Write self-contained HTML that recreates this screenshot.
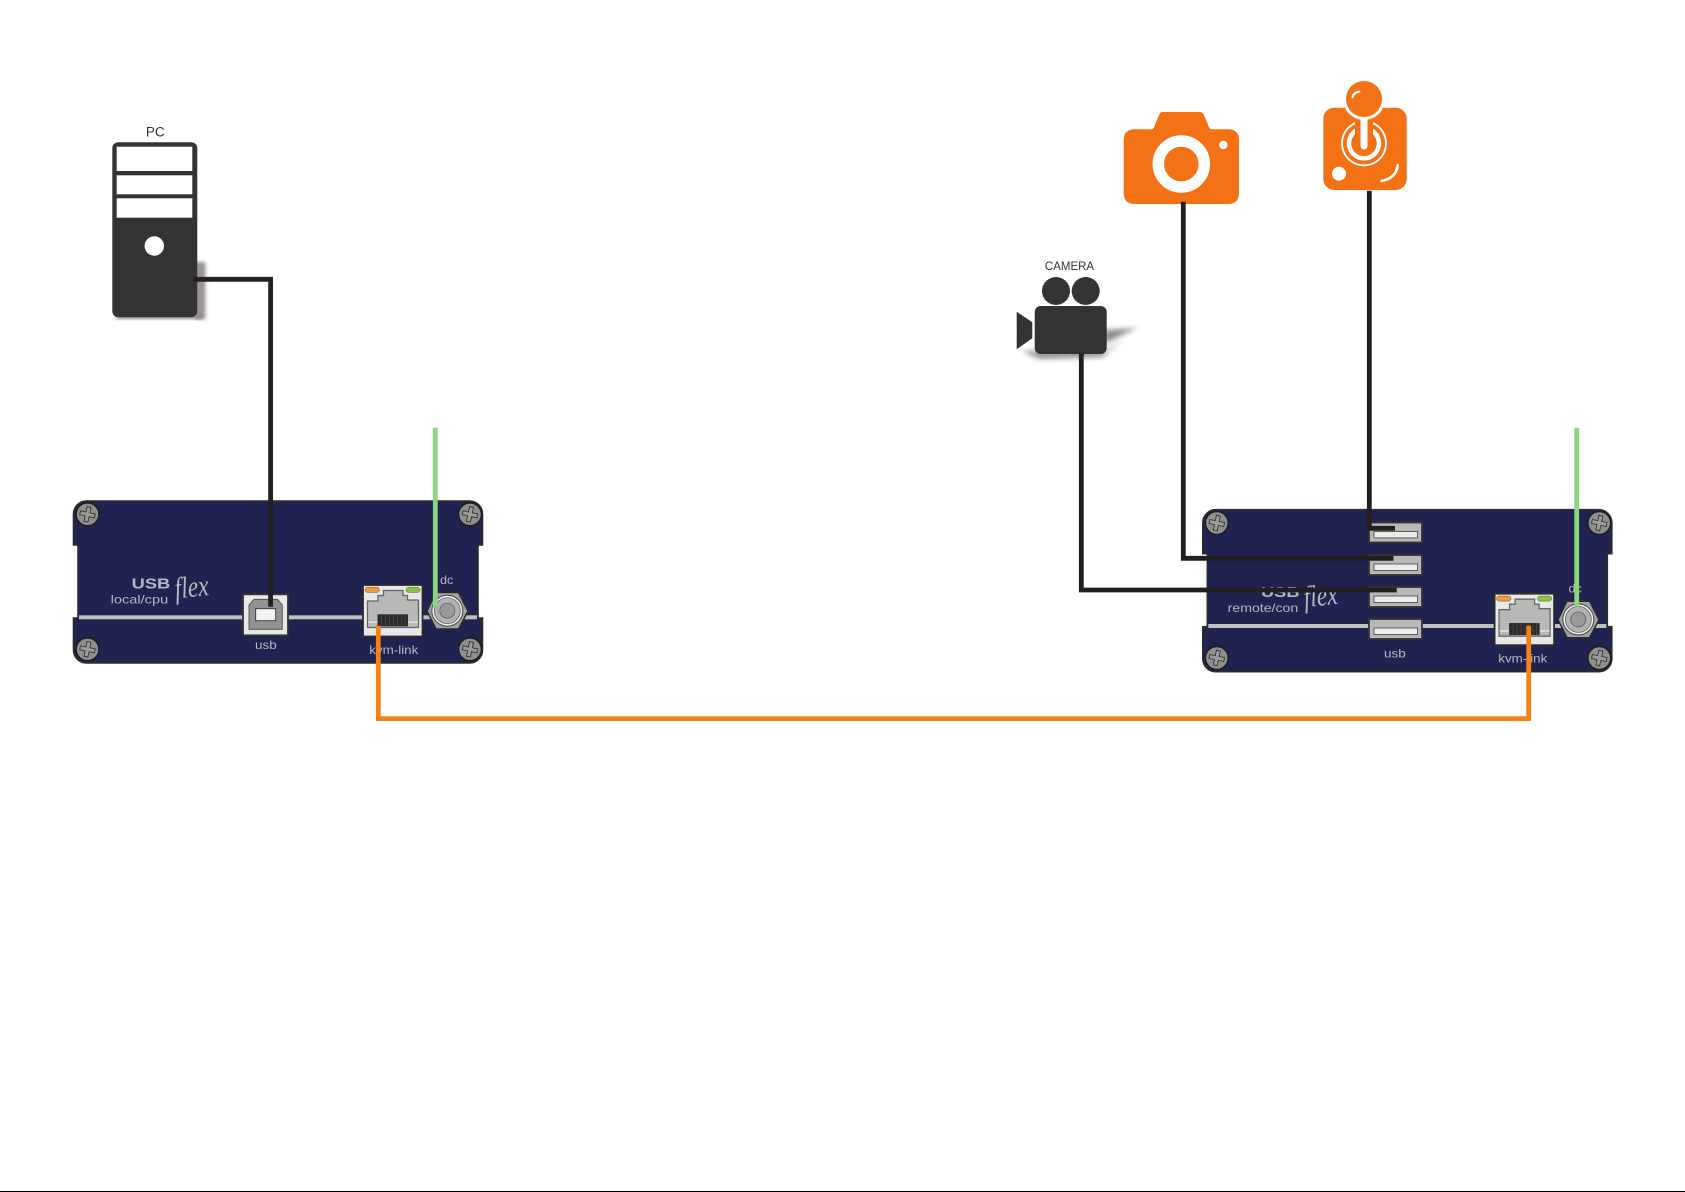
<!DOCTYPE html>
<html>
<head>
<meta charset="utf-8">
<style>
html,body{margin:0;padding:0;background:#fff;}
svg{display:block;}
text{font-family:"Liberation Sans",sans-serif;}
text.fx{font-family:"Liberation Serif",serif;font-style:italic;}
</style>
</head>
<body>
<svg width="1685" height="1192" viewBox="0 0 1685 1192" xmlns="http://www.w3.org/2000/svg">
<defs>
  <filter id="b2" x="-40%" y="-30%" width="180%" height="160%"><feGaussianBlur stdDeviation="1.8"/></filter>
  <filter id="b3" x="-30%" y="-60%" width="160%" height="220%"><feGaussianBlur stdDeviation="2.6"/></filter>
  <g id="screw">
    <circle r="11.5" fill="#8f8f8d" stroke="#1d1d1f" stroke-width="1.6"/>
    <path d="M-2,-7.5 L2,-7.5 L2,-2 L7.5,-2 L7.5,2 L2,2 L2,7.5 L-2,7.5 L-2,2 L-7.5,2 L-7.5,-2 L-2,-2 Z" fill="#9c9c9a" stroke="#333" stroke-width=".9" transform="rotate(12)"/>
  </g>
  <g id="body">
    <path d="M73.5,545 V514 A13,13 0 0 1 86.5,501 H469.5 A13,13 0 0 1 482.5,514 V545 H478 V618 H482.5 V650 A13,13 0 0 1 469.5,663 H86.5 A13,13 0 0 1 73.5,650 V618 H78 V545 Z" fill="#20234f" stroke="#2c2c2e" stroke-width="1.6"/>
    <rect x="79" y="615.3" width="398" height="4" fill="#c0c0c0"/>
    <use href="#screw" x="87.5" y="514.3"/>
    <use href="#screw" x="470" y="514.3"/>
    <use href="#screw" x="87.5" y="649.3"/>
    <use href="#screw" x="470" y="649.3"/>
  </g>
  <g id="rj">
    <rect x="363" y="585" width="59.5" height="51.5" fill="#e8e8e8" stroke="#2a2a2a" stroke-width="1.8"/>
    <rect x="365" y="587.4" width="14.4" height="5" rx="2.5" fill="#f39a3c" stroke="#5a4a30" stroke-width=".5"/>
    <rect x="406" y="587.4" width="14" height="5" rx="2.5" fill="#8cc63f" stroke="#4a5a30" stroke-width=".5"/>
    <path d="M367.5,601 H378 V595.5 H383.5 V590.5 H403 V595.5 H407.5 V600 H418.5 V627.5 H367.5 Z" fill="#b8b9b7" stroke="#666" stroke-width="1.3"/>
    <rect x="368" y="621.5" width="50" height="1.4" fill="#e6e6e6"/>
    <rect x="377.5" y="614.3" width="30.5" height="12" fill="#2b2b2b"/>
    <path d="M381.5,614.3 v12 M385.5,614.3 v12 M389.5,614.3 v12 M393.5,614.3 v12 M397.5,614.3 v12 M401.5,614.3 v12 M405,614.3 v12" stroke="#444" stroke-width="1"/>
  </g>
  <g id="dcj">
    <path d="M427,611 L436,592.5 L458.5,592.5 L468,611 L458.5,629 L436,629 Z" fill="#a2a2a2" stroke="#2b2b2b" stroke-width="1.5"/>
    <circle cx="447.3" cy="610.7" r="15.5" fill="#f0f0f0" stroke="#444" stroke-width="1"/>
    <circle cx="447.3" cy="610.7" r="13" fill="#b2b2b2" stroke="#555" stroke-width=".7"/>
    <circle cx="447.3" cy="610.7" r="7.5" fill="#9a9a9a" stroke="#666" stroke-width=".9"/>
  </g>
  <g id="usba">
    <rect x="0" y="0" width="53" height="20" fill="#b8b8b8" stroke="#333" stroke-width="1.8"/>
    <rect x="5" y="9" width="43.5" height="6.4" fill="#ececec" stroke="#444" stroke-width=".8"/>
  </g>
</defs>

<rect width="1685" height="1192" fill="#fff"/>
<rect y="1191" width="1685" height="1" fill="#000"/>

<!-- PC -->
<text x="155.3" y="136.5" font-size="13.5" fill="#333" text-anchor="middle">PC</text>
<rect x="195" y="262" width="10.5" height="57" fill="#9a9494" filter="url(#b2)"/>
<rect x="116" y="314" width="86" height="5" fill="#8e8888" filter="url(#b2)"/>
<rect x="112.3" y="142.3" width="85" height="175" rx="6" fill="#333"/>
<rect x="116.7" y="146.7" width="75.6" height="24.3" fill="#fff"/>
<rect x="116.7" y="175.3" width="75.6" height="19" fill="#fff"/>
<rect x="116.7" y="198.3" width="75.6" height="19.4" fill="#fff"/>
<circle cx="154.3" cy="246" r="9.7" fill="#fff"/>

<!-- Left device -->
<use href="#body"/>
<g fill="#b6b7bf">
  <text x="131.7" y="588.5" font-size="15" font-weight="bold" textLength="38.5" lengthAdjust="spacingAndGlyphs">USB</text>
  <text x="110.7" y="603.5" font-size="12" textLength="57.5" lengthAdjust="spacingAndGlyphs">local/cpu</text>
  <text class="fx" x="175" y="597" font-size="30" textLength="34" lengthAdjust="spacingAndGlyphs" transform="rotate(-6 190 592)">flex</text>
  <text x="255" y="649" font-size="12" textLength="21.7" lengthAdjust="spacingAndGlyphs">usb</text>
  <text x="369.3" y="654" font-size="12" textLength="49" lengthAdjust="spacingAndGlyphs">kvm-link</text>
  <text x="440" y="584" font-size="12" textLength="13.3" lengthAdjust="spacingAndGlyphs">dc</text>
</g>
<rect x="243" y="594.3" width="45" height="41" fill="#e8e8e8" stroke="#333" stroke-width="1.8"/>
<path d="M249,605 L254,599.3 H277.5 L282.3,605 V629.3 H249 Z" fill="#929292" stroke="#444" stroke-width=".8"/>
<rect x="255.7" y="608.7" width="20" height="12" fill="#f2f2f2" stroke="#333" stroke-width=".9"/>
<use href="#rj"/>
<use href="#dcj"/>

<!-- Right device -->
<use href="#body" x="1129.3" y="8.7"/>
<g fill="#b6b7bf">
  <text x="1261" y="597.2" font-size="15" font-weight="bold" textLength="38.5" lengthAdjust="spacingAndGlyphs">USB</text>
  <text x="1227.7" y="612" font-size="12" textLength="70.5" lengthAdjust="spacingAndGlyphs">remote/con</text>
  <text class="fx" x="1304" y="605.7" font-size="30" textLength="34" lengthAdjust="spacingAndGlyphs" transform="rotate(-6 1319 601)">flex</text>
  <text x="1384" y="657.7" font-size="12" textLength="21.7" lengthAdjust="spacingAndGlyphs">usb</text>
  <text x="1498.3" y="662.5" font-size="12" textLength="49" lengthAdjust="spacingAndGlyphs">kvm-link</text>
  <text x="1568.5" y="592.5" font-size="12" textLength="13.3" lengthAdjust="spacingAndGlyphs">dc</text>
</g>
<use href="#usba" x="1369" y="522.5"/>
<use href="#usba" x="1369" y="555"/>
<use href="#usba" x="1369" y="587"/>
<use href="#usba" x="1369" y="619"/>
<use href="#rj" x="1131.6" y="8.7"/>
<use href="#dcj" x="1131" y="8.7"/>

<!-- Photo camera -->
<path d="M1135,129.3 H1151 Q1153.5,129.3 1154.5,126 L1159,115 Q1160,112 1162.5,112 H1200.5 Q1203,112 1204,115 L1208.5,126 Q1209.5,129.3 1212,129.3 H1228 Q1239,129.3 1239,140 V193 Q1239,204 1228,204 H1135 Q1123.7,204 1123.7,193 V140 Q1123.7,129.3 1135,129.3 Z" fill="#f47216"/>
<circle cx="1181.3" cy="164" r="23" fill="none" stroke="#fff" stroke-width="11.5"/>
<circle cx="1223.3" cy="145" r="4.2" fill="#fff"/>

<!-- Joystick -->
<rect x="1323.3" y="107.7" width="83.4" height="82.3" rx="11" fill="#f47216"/>
<circle cx="1364" cy="143.3" r="22" fill="none" stroke="#fff" stroke-width="1.8"/>
<circle cx="1364" cy="143.3" r="15" fill="none" stroke="#fff" stroke-width="4.5"/>
<rect x="1355" y="112" width="18" height="30" fill="#f47216"/>
<path d="M1364,112 V148" stroke="#f47216" stroke-width="15" stroke-linecap="round"/>
<path d="M1364,112 V146" stroke="#fff" stroke-width="7" stroke-linecap="round"/>
<circle cx="1364" cy="99" r="21" fill="#fff"/>
<circle cx="1364" cy="99" r="18" fill="#f47216"/>
<path d="M1352.7,97 Q1353.5,92.5 1359.3,91.7" fill="none" stroke="#fff" stroke-width="2.2" stroke-linecap="round"/>
<circle cx="1339" cy="173.7" r="7" fill="#fff"/>
<path d="M1397.7,165 Q1396.5,178 1381.5,181" fill="none" stroke="#fff" stroke-width="2.6" stroke-linecap="round"/>

<!-- Video camera -->
<text x="1069.5" y="270" font-size="11.5" fill="#333" text-anchor="middle">CAMERA</text>
<path d="M1104,330 L1137,328 L1120,336 L1104,344 Z" fill="#8c8c8c" filter="url(#b3)"/>
<path d="M1022,351 H1106 L1124,338 L1102,357 L1040,359 Z" fill="#8c8c8c" filter="url(#b3)"/>
<circle cx="1056" cy="291" r="14" fill="#333"/>
<circle cx="1085.7" cy="291" r="14" fill="#333"/>
<rect x="1034.7" y="306" width="72" height="48" rx="6" fill="#333"/>
<path d="M1016.7,311.7 L1032.3,322.3 V338.3 L1016.7,349.3 Z" fill="#333"/>

<!-- Wires -->
<g fill="none" stroke-linejoin="miter">
  <path d="M193.3,279.3 H270.6 V606.7" stroke="#231f20" stroke-width="4.8"/>
  <path d="M1369.3,190.7 V528.3 H1395" stroke="#231f20" stroke-width="4.8"/>
  <path d="M1183.3,201.7 V558.3 H1393.5" stroke="#231f20" stroke-width="4.8"/>
  <path d="M1081.3,353.3 V590 H1396.7" stroke="#231f20" stroke-width="4.8"/>
  <path d="M435.3,427.7 V606.7" stroke="#8bd480" stroke-width="4.8"/>
  <path d="M1576.7,427.7 V606.7" stroke="#8bd480" stroke-width="4.8"/>
  <path d="M378.3,625.7 V718.6 H1528.7 V625.7" stroke="#f58216" stroke-width="4.8"/>
</g>
</svg>
</body>
</html>
